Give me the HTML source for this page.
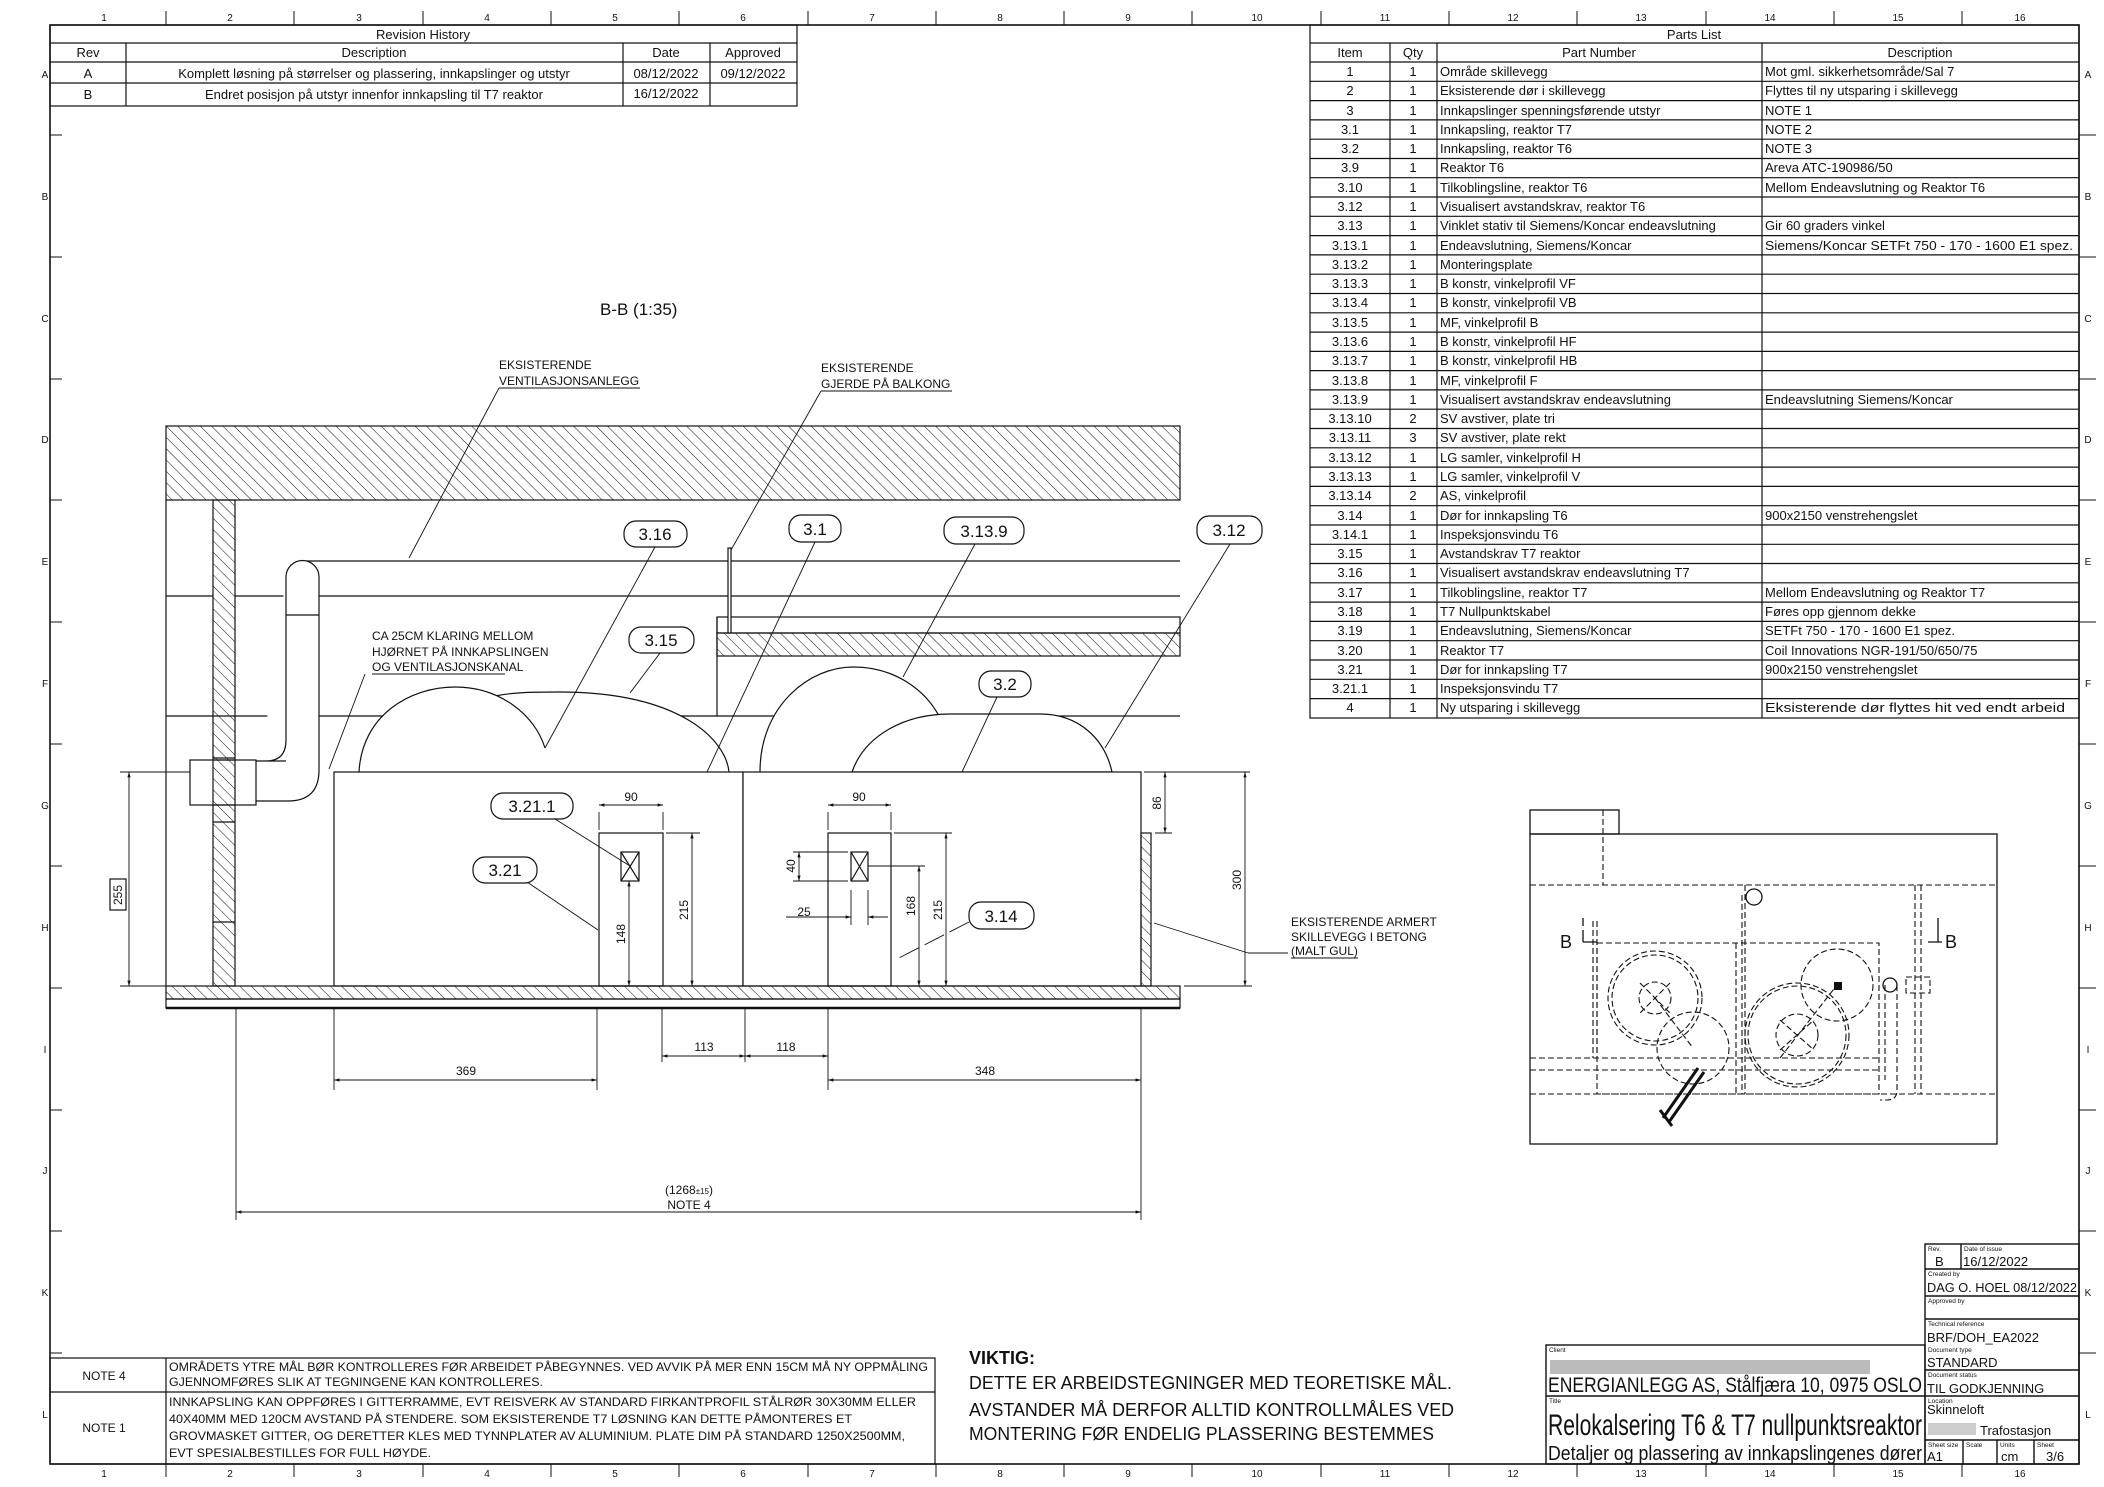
<!DOCTYPE html>
<html><head><meta charset="utf-8">
<style>
html,body{margin:0;padding:0;background:#fff;}
svg{display:block;}
text{font-family:"Liberation Sans",sans-serif;fill:#111;}
.pl{font-family:"DejaVu Sans",sans-serif;font-size:13px;}
.d{font-size:12px;}
</style></head><body>
<svg width="2104" height="1487" viewBox="0 0 2104 1487" xmlns="http://www.w3.org/2000/svg">
<defs>
<pattern id="h" width="8" height="8" patternUnits="userSpaceOnUse" patternTransform="rotate(-45)">
<line x1="0" y1="0" x2="0" y2="8" stroke="#111" stroke-width="1"/></pattern>
<marker id="a" viewBox="0 0 10 10" refX="10" refY="5" markerWidth="8" markerHeight="6" orient="auto-start-reverse"><path d="M0,2 L10,5 L0,8z" fill="#111"/></marker>
</defs>
<g fill="none" stroke="#111" stroke-width="1.2">
<rect x="50" y="25" width="2029" height="1439" stroke-width="1.6"/>
</g>
<g stroke="#111" stroke-width="1">
<line x1="166" y1="11" x2="166" y2="25"/><line x1="294" y1="11" x2="294" y2="25"/><line x1="423" y1="11" x2="423" y2="25"/><line x1="551" y1="11" x2="551" y2="25"/><line x1="679" y1="11" x2="679" y2="25"/><line x1="808" y1="11" x2="808" y2="25"/><line x1="936" y1="11" x2="936" y2="25"/><line x1="1064" y1="11" x2="1064" y2="25"/><line x1="1192" y1="11" x2="1192" y2="25"/><line x1="1321" y1="11" x2="1321" y2="25"/><line x1="1449" y1="11" x2="1449" y2="25"/><line x1="1577" y1="11" x2="1577" y2="25"/><line x1="1706" y1="11" x2="1706" y2="25"/><line x1="1834" y1="11" x2="1834" y2="25"/><line x1="1962" y1="11" x2="1962" y2="25"/>
<line x1="166" y1="1464" x2="166" y2="1477"/><line x1="294" y1="1464" x2="294" y2="1477"/><line x1="423" y1="1464" x2="423" y2="1477"/><line x1="551" y1="1464" x2="551" y2="1477"/><line x1="679" y1="1464" x2="679" y2="1477"/><line x1="808" y1="1464" x2="808" y2="1477"/><line x1="936" y1="1464" x2="936" y2="1477"/><line x1="1064" y1="1464" x2="1064" y2="1477"/><line x1="1192" y1="1464" x2="1192" y2="1477"/><line x1="1321" y1="1464" x2="1321" y2="1477"/><line x1="1449" y1="1464" x2="1449" y2="1477"/><line x1="1577" y1="1464" x2="1577" y2="1477"/><line x1="1706" y1="1464" x2="1706" y2="1477"/><line x1="1834" y1="1464" x2="1834" y2="1477"/><line x1="1962" y1="1464" x2="1962" y2="1477"/>
<line x1="2079" y1="135" x2="2096" y2="135"/><line x1="2079" y1="257" x2="2096" y2="257"/><line x1="2079" y1="379" x2="2096" y2="379"/><line x1="2079" y1="500" x2="2096" y2="500"/><line x1="2079" y1="622" x2="2096" y2="622"/><line x1="2079" y1="744" x2="2096" y2="744"/><line x1="2079" y1="866" x2="2096" y2="866"/><line x1="2079" y1="988" x2="2096" y2="988"/><line x1="2079" y1="1110" x2="2096" y2="1110"/><line x1="2079" y1="1231" x2="2096" y2="1231"/><line x1="2079" y1="1353" x2="2096" y2="1353"/>
<line x1="50" y1="135" x2="62" y2="135"/><line x1="50" y1="257" x2="62" y2="257"/><line x1="50" y1="379" x2="62" y2="379"/><line x1="50" y1="500" x2="62" y2="500"/><line x1="50" y1="622" x2="62" y2="622"/><line x1="50" y1="744" x2="62" y2="744"/><line x1="50" y1="866" x2="62" y2="866"/><line x1="50" y1="988" x2="62" y2="988"/><line x1="50" y1="1110" x2="62" y2="1110"/><line x1="50" y1="1231" x2="62" y2="1231"/><line x1="50" y1="1353" x2="62" y2="1353"/>
</g>
<g font-size="10" text-anchor="middle">
<text x="104" y="21">1</text><text x="230" y="21">2</text><text x="359" y="21">3</text><text x="487" y="21">4</text><text x="615" y="21">5</text><text x="743" y="21">6</text><text x="872" y="21">7</text><text x="1000" y="21">8</text><text x="1128" y="21">9</text><text x="1257" y="21">10</text><text x="1385" y="21">11</text><text x="1513" y="21">12</text><text x="1641" y="21">13</text><text x="1770" y="21">14</text><text x="1898" y="21">15</text><text x="2020" y="21">16</text>
<text x="104" y="1477">1</text><text x="230" y="1477">2</text><text x="359" y="1477">3</text><text x="487" y="1477">4</text><text x="615" y="1477">5</text><text x="743" y="1477">6</text><text x="872" y="1477">7</text><text x="1000" y="1477">8</text><text x="1128" y="1477">9</text><text x="1257" y="1477">10</text><text x="1385" y="1477">11</text><text x="1513" y="1477">12</text><text x="1641" y="1477">13</text><text x="1770" y="1477">14</text><text x="1898" y="1477">15</text><text x="2020" y="1477">16</text>
<text x="45" y="78">A</text><text x="45" y="200">B</text><text x="45" y="322">C</text><text x="45" y="443">D</text><text x="45" y="565">E</text><text x="45" y="687">F</text><text x="45" y="809">G</text><text x="45" y="931">H</text><text x="45" y="1053">I</text><text x="45" y="1174">J</text><text x="45" y="1296">K</text><text x="45" y="1418">L</text>
<text x="2088" y="78">A</text><text x="2088" y="200">B</text><text x="2088" y="322">C</text><text x="2088" y="443">D</text><text x="2088" y="565">E</text><text x="2088" y="687">F</text><text x="2088" y="809">G</text><text x="2088" y="931">H</text><text x="2088" y="1053">I</text><text x="2088" y="1174">J</text><text x="2088" y="1296">K</text><text x="2088" y="1418">L</text>
</g>

<g fill="none" stroke="#111" stroke-width="1.2">
<rect x="50" y="25" width="747" height="81"/>
<line x1="50" y1="43" x2="797" y2="43"/><line x1="50" y1="62" x2="797" y2="62"/><line x1="50" y1="83" x2="797" y2="83"/>
<line x1="126" y1="43" x2="126" y2="106"/><line x1="623" y1="43" x2="623" y2="106"/><line x1="710" y1="43" x2="710" y2="106"/>
</g>
<g font-size="13" text-anchor="middle">
<text x="423" y="39">Revision History</text>
<text x="88" y="57">Rev</text><text x="374" y="57">Description</text><text x="666" y="57">Date</text><text x="753" y="57">Approved</text>
<text x="88" y="78">A</text><text x="374" y="78">Komplett løsning på størrelser og plassering, innkapslinger og utstyr</text><text x="666" y="78">08/12/2022</text><text x="753" y="78">09/12/2022</text>
<text x="88" y="99">B</text><text x="374" y="99">Endret posisjon på utstyr innenfor innkapsling til T7 reaktor</text><text x="666" y="98">16/12/2022</text>
</g>

<g fill="none" stroke="#111" stroke-width="1.2">
<rect x="1310" y="25" width="769" height="693"/>
<line x1="1310" y1="43" x2="2079" y2="43"/>
<line x1="1390" y1="43" x2="1390" y2="718"/><line x1="1437" y1="43" x2="1437" y2="718"/><line x1="1762" y1="43" x2="1762" y2="718"/>
<path d="M1310 62H2079M1310 81.3H2079M1310 100.6H2079M1310 119.9H2079M1310 139.2H2079M1310 158.5H2079M1310 177.7H2079M1310 197H2079M1310 216.3H2079M1310 235.6H2079M1310 254.9H2079M1310 274.2H2079M1310 293.5H2079M1310 312.8H2079M1310 332.1H2079M1310 351.4H2079M1310 370.6H2079M1310 389.9H2079M1310 409.2H2079M1310 428.5H2079M1310 447.8H2079M1310 467.1H2079M1310 486.4H2079M1310 505.7H2079M1310 525H2079M1310 544.3H2079M1310 563.5H2079M1310 582.8H2079M1310 602.1H2079M1310 621.4H2079M1310 640.7H2079M1310 660H2079M1310 679.3H2079M1310 698.6H2079"/>
</g>
<g class="pl">
<text x="1694" y="39" text-anchor="middle">Parts List</text>
<text x="1350" y="57" text-anchor="middle">Item</text><text x="1413" y="57" text-anchor="middle">Qty</text><text x="1599" y="57" text-anchor="middle">Part Number</text><text x="1920" y="57" text-anchor="middle">Description</text>
</g>
<g class="pl">
<g text-anchor="middle">
<text x="1350" y="76">1</text><text x="1350" y="95">2</text><text x="1350" y="115">3</text><text x="1350" y="134">3.1</text><text x="1350" y="153">3.2</text><text x="1350" y="172">3.9</text><text x="1350" y="192">3.10</text><text x="1350" y="211">3.12</text><text x="1350" y="230">3.13</text><text x="1350" y="250">3.13.1</text><text x="1350" y="269">3.13.2</text><text x="1350" y="288">3.13.3</text><text x="1350" y="307">3.13.4</text><text x="1350" y="327">3.13.5</text><text x="1350" y="346">3.13.6</text><text x="1350" y="365">3.13.7</text><text x="1350" y="385">3.13.8</text><text x="1350" y="404">3.13.9</text><text x="1350" y="423">3.13.10</text><text x="1350" y="442">3.13.11</text><text x="1350" y="462">3.13.12</text><text x="1350" y="481">3.13.13</text><text x="1350" y="500">3.13.14</text><text x="1350" y="520">3.14</text><text x="1350" y="539">3.14.1</text><text x="1350" y="558">3.15</text><text x="1350" y="577">3.16</text><text x="1350" y="597">3.17</text><text x="1350" y="616">3.18</text><text x="1350" y="635">3.19</text><text x="1350" y="655">3.20</text><text x="1350" y="674">3.21</text><text x="1350" y="693">3.21.1</text><text x="1350" y="712">4</text>
<text x="1413" y="76">1</text><text x="1413" y="95">1</text><text x="1413" y="115">1</text><text x="1413" y="134">1</text><text x="1413" y="153">1</text><text x="1413" y="172">1</text><text x="1413" y="192">1</text><text x="1413" y="211">1</text><text x="1413" y="230">1</text><text x="1413" y="250">1</text><text x="1413" y="269">1</text><text x="1413" y="288">1</text><text x="1413" y="307">1</text><text x="1413" y="327">1</text><text x="1413" y="346">1</text><text x="1413" y="365">1</text><text x="1413" y="385">1</text><text x="1413" y="404">1</text><text x="1413" y="423">2</text><text x="1413" y="442">3</text><text x="1413" y="462">1</text><text x="1413" y="481">1</text><text x="1413" y="500">2</text><text x="1413" y="520">1</text><text x="1413" y="539">1</text><text x="1413" y="558">1</text><text x="1413" y="577">1</text><text x="1413" y="597">1</text><text x="1413" y="616">1</text><text x="1413" y="635">1</text><text x="1413" y="655">1</text><text x="1413" y="674">1</text><text x="1413" y="693">1</text><text x="1413" y="712">1</text>
</g>
<text x="1440" y="76">Område skillevegg</text><text x="1440" y="95">Eksisterende dør i skillevegg</text><text x="1440" y="115">Innkapslinger spenningsførende utstyr</text><text x="1440" y="134">Innkapsling, reaktor T7</text><text x="1440" y="153">Innkapsling, reaktor T6</text><text x="1440" y="172">Reaktor T6</text><text x="1440" y="192">Tilkoblingsline, reaktor T6</text><text x="1440" y="211">Visualisert avstandskrav, reaktor T6</text><text x="1440" y="230">Vinklet stativ til Siemens/Koncar endeavslutning</text><text x="1440" y="250">Endeavslutning, Siemens/Koncar</text><text x="1440" y="269">Monteringsplate</text><text x="1440" y="288">B konstr, vinkelprofil VF</text><text x="1440" y="307">B konstr, vinkelprofil VB</text><text x="1440" y="327">MF, vinkelprofil B</text><text x="1440" y="346">B konstr, vinkelprofil HF</text><text x="1440" y="365">B konstr, vinkelprofil HB</text><text x="1440" y="385">MF, vinkelprofil F</text><text x="1440" y="404">Visualisert avstandskrav endeavslutning</text><text x="1440" y="423">SV avstiver, plate tri</text><text x="1440" y="442">SV avstiver, plate rekt</text><text x="1440" y="462">LG samler, vinkelprofil H</text><text x="1440" y="481">LG samler, vinkelprofil V</text><text x="1440" y="500">AS, vinkelprofil</text><text x="1440" y="520">Dør for innkapsling T6</text><text x="1440" y="539">Inspeksjonsvindu T6</text><text x="1440" y="558">Avstandskrav T7 reaktor</text><text x="1440" y="577">Visualisert avstandskrav endeavslutning T7</text><text x="1440" y="597">Tilkoblingsline, reaktor T7</text><text x="1440" y="616">T7 Nullpunktskabel</text><text x="1440" y="635">Endeavslutning, Siemens/Koncar</text><text x="1440" y="655">Reaktor T7</text><text x="1440" y="674">Dør for innkapsling T7</text><text x="1440" y="693">Inspeksjonsvindu T7</text><text x="1440" y="712">Ny utsparing i skillevegg</text>
<text x="1765" y="76">Mot gml. sikkerhetsområde/Sal 7</text><text x="1765" y="95">Flyttes til ny utsparing i skillevegg</text><text x="1765" y="115">NOTE 1</text><text x="1765" y="134">NOTE 2</text><text x="1765" y="153">NOTE 3</text><text x="1765" y="172">Areva ATC-190986/50</text><text x="1765" y="192">Mellom Endeavslutning og Reaktor T6</text><text x="1765" y="230">Gir 60 graders vinkel</text><text x="1765" y="250" textLength="308" lengthAdjust="spacingAndGlyphs">Siemens/Koncar SETFt 750 - 170 - 1600 E1 spez.</text><text x="1765" y="404">Endeavslutning Siemens/Koncar</text><text x="1765" y="520">900x2150 venstrehengslet</text><text x="1765" y="597">Mellom Endeavslutning og Reaktor T7</text><text x="1765" y="616">Føres opp gjennom dekke</text><text x="1765" y="635">SETFt 750 - 170 - 1600 E1 spez.</text><text x="1765" y="655">Coil Innovations NGR-191/50/650/75</text><text x="1765" y="674">900x2150 venstrehengslet</text><text x="1765" y="712" textLength="300" lengthAdjust="spacingAndGlyphs">Eksisterende dør flyttes hit ved endt arbeid</text>
</g>

<text x="600" y="315" font-size="17">B-B (1:35)</text>
<g stroke="#111" stroke-width="1.2" fill="none">
<rect x="166" y="426" width="1014" height="74" fill="url(#h)"/>
<line x1="166" y1="500" x2="166" y2="986"/>
<rect x="213" y="500" width="22" height="486" fill="url(#h)"/>
<line x1="213" y1="758" x2="235" y2="758"/><line x1="213" y1="822" x2="235" y2="822"/><line x1="213" y1="922" x2="235" y2="922"/>
<line x1="166" y1="596" x2="213" y2="596"/><line x1="235" y1="596" x2="286" y2="596"/><line x1="319" y1="596" x2="1180" y2="596"/>
<line x1="303" y1="561" x2="1180" y2="561"/>
<line x1="166" y1="716" x2="1180" y2="716"/>
<rect x="717" y="617" width="463" height="16" fill="#fff"/>
<rect x="717" y="633" width="463" height="23" fill="url(#h)"/>
<line x1="717" y1="617" x2="717" y2="716"/>
<rect x="728" y="548" width="3" height="85" fill="#fff"/>
<path d="M286 761 L256 761 M286 577 A16.5 16.5 0 0 1 319 577 L319 770 Q319 801 288 801 L256 801 M286 577 L286 740 Q286 761 266 761" fill="#fff"/>
<line x1="286" y1="615" x2="319" y2="615"/>
<rect x="190" y="760" width="66" height="45" fill="#fff"/>
<rect x="213" y="760" width="22" height="45" fill="url(#h)"/>
<path d="M495 696 C515 692 535 692 560 692 C680 692 726 740 729 772 L495 772Z" fill="#fff" stroke="none"/>
<path d="M495 696 C515 692 535 692 560 692 C680 692 726 740 729 772"/>
<path d="M359 772 C362 715 410 687 455 687 C500 687 535 715 545 748 L545 772Z" fill="#fff" stroke="none"/>
<path d="M359 772 C362 715 410 687 455 687 C500 687 535 715 545 748"/>
<path d="M760 772 C760 705 810 667 853 667 C895 667 925 690 939 716 L939 772Z" fill="#fff" stroke="none"/>
<path d="M760 772 C760 705 810 667 853 667 C895 667 925 690 939 716"/>
<path d="M852 772 C865 735 905 714 950 714 L1040 714 C1080 714 1105 740 1112 772Z" fill="#fff"/>
<rect x="334" y="772" width="409" height="214" fill="#fff"/>
<rect x="743" y="772" width="398" height="214" fill="#fff"/>
<rect x="1141" y="833" width="10" height="153" fill="url(#h)"/>
<rect x="166" y="986" width="1014" height="13" fill="url(#h)"/>
<rect x="166" y="999" width="1014" height="9"/>
<line x1="166" y1="1008" x2="1180" y2="1008" stroke-width="2.4"/>
<rect x="599" y="833" width="64" height="153"/>
<rect x="621" y="852" width="18" height="29"/><path d="M621 852 L639 881 M639 852 L621 881"/>
<rect x="828" y="833" width="63" height="153"/>
<rect x="851" y="852" width="17" height="29"/><path d="M851 852 L868 881 M868 852 L851 881"/>
</g>
<g stroke="#111" stroke-width="0.9" fill="none">
<line x1="599" y1="812" x2="599" y2="830"/><line x1="663" y1="812" x2="663" y2="830"/>
<line x1="599" y1="805" x2="663" y2="805" marker-start="url(#a)" marker-end="url(#a)"/>
<line x1="828" y1="812" x2="828" y2="830"/><line x1="891" y1="812" x2="891" y2="830"/>
<line x1="828" y1="805" x2="891" y2="805" marker-start="url(#a)" marker-end="url(#a)"/>
<line x1="666" y1="833" x2="700" y2="833"/>
<line x1="692" y1="833" x2="692" y2="986" marker-start="url(#a)" marker-end="url(#a)"/>
<line x1="629" y1="881" x2="629" y2="986" marker-start="url(#a)" marker-end="url(#a)"/>
<line x1="894" y1="833" x2="952" y2="833"/>
<line x1="946" y1="833" x2="946" y2="986" marker-start="url(#a)" marker-end="url(#a)"/>
<line x1="868" y1="866" x2="925" y2="866"/>
<line x1="919" y1="866" x2="919" y2="986" marker-start="url(#a)" marker-end="url(#a)"/>
<line x1="793" y1="852" x2="848" y2="852"/><line x1="793" y1="881" x2="848" y2="881"/>
<line x1="799" y1="852" x2="799" y2="881" marker-start="url(#a)" marker-end="url(#a)"/>
<line x1="786" y1="917" x2="851" y2="917" marker-end="url(#a)"/><line x1="888" y1="917" x2="868" y2="917" marker-end="url(#a)"/>
<line x1="851" y1="890" x2="851" y2="925"/><line x1="868" y1="890" x2="868" y2="925"/>
<line x1="1144" y1="772" x2="1250" y2="772"/><line x1="1155" y1="833" x2="1172" y2="833"/>
<line x1="1165" y1="772" x2="1165" y2="833" marker-start="url(#a)" marker-end="url(#a)"/>
<line x1="1245" y1="772" x2="1245" y2="986" marker-start="url(#a)" marker-end="url(#a)"/>
<line x1="1184" y1="986" x2="1252" y2="986"/>
<line x1="120" y1="772" x2="190" y2="772"/><line x1="120" y1="986" x2="166" y2="986"/>
<line x1="129" y1="772" x2="129" y2="986" marker-start="url(#a)" marker-end="url(#a)"/>
<path d="M334 1008V1090M597 1008V1090M662 1008V1062M745 1008V1062M828 1008V1090M1141 1008V1220M236 1008V1220"/>
<line x1="334" y1="1080" x2="597" y2="1080" marker-start="url(#a)" marker-end="url(#a)"/>
<line x1="662" y1="1056" x2="745" y2="1056" marker-start="url(#a)" marker-end="url(#a)"/>
<line x1="745" y1="1056" x2="828" y2="1056" marker-start="url(#a)" marker-end="url(#a)"/>
<line x1="828" y1="1080" x2="1141" y2="1080" marker-start="url(#a)" marker-end="url(#a)"/>
<line x1="236" y1="1212" x2="1141" y2="1212" marker-start="url(#a)" marker-end="url(#a)"/>
<path d="M499 388 L409 558"/><path d="M821 391 L731 550"/>
<path d="M372 674 L505 674 M365 674 L329 769"/>
<path d="M1248 953 L1288 953 M1248 953 L1154 923"/>
<path d="M655 547 L545 748"/><path d="M815 542 L707 772"/><path d="M975 544 L903 677"/><path d="M1230 544 L1105 748"/>
<path d="M660 653 L630 693"/><path d="M997 697 L962 772"/><path d="M555 819 L630 866"/><path d="M527 882 L598 930"/>
<path d="M969 922 L895 960" stroke-dasharray="22,6"/>
</g>
<g fill="#fff" stroke="#111" stroke-width="1.2">
<rect x="624" y="521" width="63" height="26" rx="12"/><rect x="789" y="515" width="52" height="27" rx="12"/><rect x="944" y="517" width="80" height="27" rx="12"/><rect x="1197" y="516" width="65" height="28" rx="12"/>
<rect x="629" y="627" width="65" height="26" rx="12"/><rect x="979" y="671" width="52" height="26" rx="12"/><rect x="491" y="793" width="82" height="26" rx="12"/><rect x="473" y="857" width="64" height="26" rx="12"/><rect x="969" y="902" width="65" height="27" rx="12"/>
<rect x="110" y="879" width="16" height="31" fill="none"/>
</g>
<g font-size="17" text-anchor="middle">
<text x="655" y="540">3.16</text><text x="815" y="535">3.1</text><text x="984" y="537">3.13.9</text><text x="1229" y="536">3.12</text>
<text x="661" y="646">3.15</text><text x="1005" y="690">3.2</text><text x="532" y="812">3.21.1</text><text x="505" y="876">3.21</text><text x="1001" y="922">3.14</text>
</g>
<g class="d" text-anchor="middle">
<text x="631" y="801">90</text><text x="859" y="801">90</text>
<text x="704" y="1051">113</text><text x="786" y="1051">118</text>
<text x="466" y="1075">369</text><text x="985" y="1075">348</text>
<text x="689" y="1194">(1268<tspan font-size="8">±15</tspan>)</text><text x="689" y="1209">NOTE 4</text>
<text x="804" y="916">25</text>
<text transform="translate(688,910) rotate(-90)">215</text>
<text transform="translate(625,934) rotate(-90)">148</text>
<text transform="translate(795,866) rotate(-90)">40</text>
<text transform="translate(915,906) rotate(-90)">168</text>
<text transform="translate(942,910) rotate(-90)">215</text>
<text transform="translate(1161,803) rotate(-90)">86</text>
<text transform="translate(1241,880) rotate(-90)">300</text>
<text transform="translate(122,895) rotate(-90)">255</text>
</g>
<g class="d">
<text x="499" y="369">EKSISTERENDE</text><text x="499" y="385">VENTILASJONSANLEGG</text>
<text x="821" y="372">EKSISTERENDE</text><text x="821" y="388">GJERDE PÅ BALKONG</text>
<text x="372" y="640">CA 25CM KLARING MELLOM</text><text x="372" y="656">HJØRNET PÅ INNKAPSLINGEN</text><text x="372" y="671">OG VENTILASJONSKANAL</text>
<text x="1291" y="926">EKSISTERENDE ARMERT</text><text x="1291" y="941">SKILLEVEGG I BETONG</text><text x="1291" y="955">(MALT GUL)</text>
</g>
<g stroke="#111" stroke-width="0.9"><line x1="499" y1="388" x2="640" y2="388"/><line x1="821" y1="391" x2="952" y2="391"/><line x1="1291" y1="958" x2="1358" y2="958"/></g>

<g fill="none" stroke="#111" stroke-width="1.3">
<rect x="1530" y="810" width="89" height="24"/>
<rect x="1530" y="834" width="467" height="310"/>
</g>
<g fill="none" stroke="#111" stroke-width="1.1" stroke-dasharray="6,3">
<line x1="1603" y1="810" x2="1603" y2="885"/>
<line x1="1530" y1="885" x2="1997" y2="885"/><line x1="1530" y1="1094" x2="1997" y2="1094"/>
<line x1="1530" y1="1058" x2="1879" y2="1058"/><line x1="1530" y1="1070" x2="1880" y2="1070"/>
<rect x="1597" y="943" width="282" height="151"/>
<line x1="1736" y1="943" x2="1736" y2="1094"/><line x1="1742" y1="895" x2="1742" y2="1094"/><line x1="1745" y1="885" x2="1745" y2="1094"/>
<line x1="1593" y1="921" x2="1593" y2="1058"/><line x1="1597" y1="921" x2="1597" y2="1058"/>
<circle cx="1655" cy="998" r="47"/><circle cx="1655" cy="998" r="43"/><circle cx="1655" cy="998" r="16"/>
<circle cx="1693" cy="1048" r="36"/>
<circle cx="1797" cy="1035" r="52"/><circle cx="1797" cy="1035" r="49"/><circle cx="1797" cy="1035" r="21"/>
<circle cx="1837" cy="985" r="36"/>
<line x1="1915" y1="885" x2="1915" y2="1094"/><line x1="1921" y1="885" x2="1921" y2="1094"/>
<rect x="1906" y="977" width="24" height="16"/>
<path d="M1897 985 L1897 1090 Q1897 1100 1887 1100 L1880 1100 M1885 985 L1885 1080"/>
<path d="M1640 983 L1670 1013 M1670 983 L1640 1013 M1655 998 L1693 1048 M1780 1050 L1814 1020 M1780 1020 L1814 1050 M1780 1058 L1837 985"/>
</g>
<g fill="none" stroke="#111" stroke-width="1.3">
<circle cx="1754" cy="897" r="8"/><circle cx="1890" cy="985" r="7"/>
<path d="M1663 1118 L1698 1068 M1669 1122 L1704 1072 M1660 1110 L1672 1126" stroke-width="3"/>
<path d="M1583 942 L1597 942 M1583 942 L1583 930 M1583 926 L1583 918 M1942 942 L1928 942 M1938 942 L1938 918"/>
</g>
<rect x="1834" y="982" width="8" height="8" fill="#111"/>
<text x="1560" y="948" font-size="18">B</text><text x="1945" y="948" font-size="18">B</text>

<g fill="none" stroke="#111" stroke-width="1.2">
<rect x="50" y="1358" width="885" height="106"/><line x1="50" y1="1392" x2="935" y2="1392"/><line x1="166" y1="1358" x2="166" y2="1464"/>
</g>
<g font-size="12">
<text x="104" y="1380" text-anchor="middle">NOTE 4</text><text x="104" y="1432" text-anchor="middle">NOTE 1</text>
<text x="169" y="1371" textLength="759" lengthAdjust="spacingAndGlyphs">OMRÅDETS YTRE MÅL BØR KONTROLLERES FØR ARBEIDET PÅBEGYNNES. VED AVVIK PÅ MER ENN 15CM MÅ NY OPPMÅLING</text>
<text x="169" y="1386" textLength="374" lengthAdjust="spacingAndGlyphs">GJENNOMFØRES SLIK AT TEGNINGENE KAN KONTROLLERES.</text>
<text x="169" y="1406" textLength="747" lengthAdjust="spacingAndGlyphs">INNKAPSLING KAN OPPFØRES I GITTERRAMME, EVT REISVERK AV STANDARD FIRKANTPROFIL STÅLRØR 30X30MM ELLER</text>
<text x="169" y="1423" textLength="683" lengthAdjust="spacingAndGlyphs">40X40MM MED 120CM AVSTAND PÅ STENDERE. SOM EKSISTERENDE T7 LØSNING KAN DETTE PÅMONTERES ET</text>
<text x="169" y="1440" textLength="736" lengthAdjust="spacingAndGlyphs">GROVMASKET GITTER, OG DERETTER KLES MED TYNNPLATER AV ALUMINIUM. PLATE DIM PÅ STANDARD 1250X2500MM,</text>
<text x="169" y="1457" textLength="262" lengthAdjust="spacingAndGlyphs">EVT SPESIALBESTILLES FOR FULL HØYDE.</text>
</g>
<text x="969" y="1364" font-size="18" font-weight="bold">VIKTIG:</text>
<g font-size="18">
<text x="969" y="1389" textLength="483" lengthAdjust="spacingAndGlyphs">DETTE ER ARBEIDSTEGNINGER MED TEORETISKE MÅL.</text>
<text x="969" y="1416" textLength="485" lengthAdjust="spacingAndGlyphs">AVSTANDER MÅ DERFOR ALLTID KONTROLLMÅLES VED</text>
<text x="969" y="1440" textLength="465" lengthAdjust="spacingAndGlyphs">MONTERING FØR ENDELIG PLASSERING BESTEMMES</text>
</g>

<g fill="none" stroke="#111" stroke-width="1.4">
<rect x="1546" y="1345" width="379" height="119"/><line x1="1546" y1="1396" x2="1925" y2="1396"/>
<rect x="1925" y="1244" width="154" height="220"/>
<path d="M1925 1269H2079M1925 1296H2079M1925 1319H2079M1925 1370H2079M1925 1396H2079M1925 1440H2079M1961 1244V1269M1963 1440V1464M1997 1440V1464M2034 1440V1464"/>
</g>
<g font-size="6.5">
<text x="1928" y="1251">Rev.</text><text x="1964" y="1251">Date of issue</text><text x="1928" y="1276">Created by</text><text x="1928" y="1303">Approved by</text><text x="1928" y="1326">Technical reference</text><text x="1928" y="1352">Document type</text><text x="1928" y="1377">Document status</text><text x="1928" y="1403">Location</text><text x="1928" y="1447">Sheet size</text><text x="1966" y="1447">Scale</text><text x="2000" y="1447">Units</text><text x="2037" y="1447">Sheet</text>
<text x="1549" y="1352">Client</text><text x="1549" y="1403">Title</text>
</g>
<g font-size="13">
<text x="1935" y="1266">B</text><text x="1963" y="1266">16/12/2022</text>
<text x="1927" y="1292" textLength="150" lengthAdjust="spacingAndGlyphs">DAG O. HOEL  08/12/2022</text>
<text x="1927" y="1342">BRF/DOH_EA2022</text><text x="1927" y="1367">STANDARD</text><text x="1927" y="1393">TIL GODKJENNING</text>
<text x="1927" y="1414">Skinneloft</text><text x="1980" y="1435">Trafostasjon</text>
<text x="1927" y="1461">A1</text><text x="2001" y="1461">cm</text><text x="2046" y="1461">3/6</text>
</g>
<rect x="1928" y="1423" width="48" height="12" fill="#ccc"/>
<rect x="1550" y="1360" width="320" height="14" fill="#bbb"/>
<text x="1548" y="1392" font-size="21" textLength="374" lengthAdjust="spacingAndGlyphs">ENERGIANLEGG AS, Stålfjæra 10, 0975 OSLO</text>
<text x="1548" y="1435" font-size="30" textLength="374" lengthAdjust="spacingAndGlyphs">Relokalsering T6 &amp; T7 nullpunktsreaktor</text>
<text x="1548" y="1460" font-size="20" textLength="374" lengthAdjust="spacingAndGlyphs">Detaljer og plassering av innkapslingenes dører</text>
</svg>
</body></html>
